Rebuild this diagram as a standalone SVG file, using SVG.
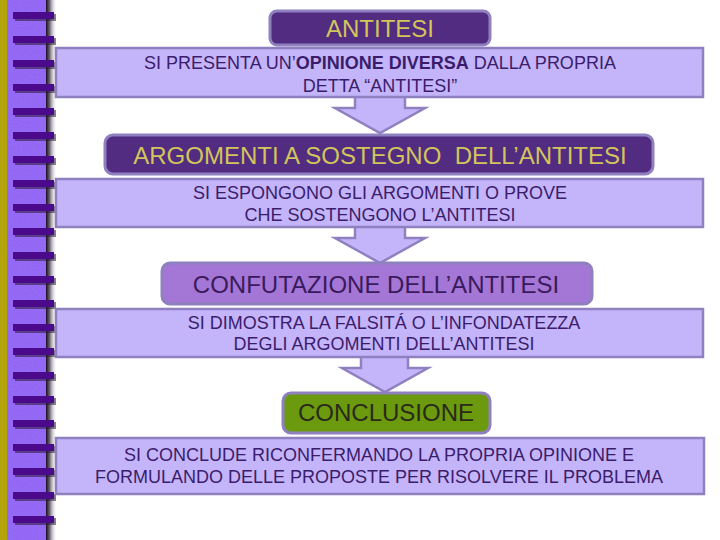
<svg xmlns="http://www.w3.org/2000/svg" width="720" height="540" viewBox="0 0 720 540">
<style>
.lt{fill:#c4b5fb;stroke:#8f80c0;stroke-width:2.5}
.ttl{stroke:#8f80c0;stroke-width:3}
.tx{font-family:"Liberation Sans",Arial,sans-serif;text-anchor:middle}
.s{font-size:18px;fill:#3b1c6b}
.b{font-size:24px}
.arr{fill:#c4b5fb;stroke:#8f80c0;stroke-width:2.5;stroke-linejoin:miter}
</style>
<defs>
<linearGradient id="edge" x1="0" x2="1" y1="0" y2="0">
<stop offset="0" stop-color="#1a0f20"/>
<stop offset="0.3" stop-color="#3a3040" stop-opacity="0.8"/>
<stop offset="1" stop-color="#ffffff" stop-opacity="0"/>
</linearGradient>
<pattern id="bars" x="0" y="12" width="60" height="24" patternUnits="userSpaceOnUse">
<rect x="15" y="2" width="41" height="7" fill="#2a1a30" opacity="0.55"/>
<rect x="13" y="0" width="41" height="7" fill="#4b0a8c"/>
</pattern>
<filter id="tex" x="0" y="0" width="1" height="1">
<feTurbulence type="fractalNoise" baseFrequency="0.9" numOctaves="2" result="n"/>
<feColorMatrix type="matrix" values="0 0 0 0 0.45  0 0 0 0 0.3  0 0 0 0 0.95  0 0 0 0.35 0" in="n" result="c"/>
<feComposite in="c" in2="SourceGraphic" operator="in"/>
</filter>
</defs>
<rect width="720" height="540" fill="#ffffff"/>
<g id="strip">
<rect x="0" y="0" width="7" height="540" fill="#b4a40c"/>
<rect x="7" y="0" width="40" height="540" fill="#8d5ff3"/>
<rect x="7" y="0" width="40" height="540" fill="#8d5ff3" filter="url(#tex)"/>
<rect x="46" y="0" width="11" height="540" fill="url(#edge)"/>
<rect x="0" y="0" width="60" height="540" fill="url(#bars)"/>
</g>
<g id="connectors">
<path class="arr" d="M355,96 V108 H335 L380,133 L425,108 H405 V96"/>
<path class="arr" d="M355,226 V238 H335 L380,263 L425,238 H405 V226"/>
<path class="arr" d="M361,356 V368 H342 L385,392 L428,368 H408 V356"/>
</g>
<g id="n_antitesi">
<rect class="ttl" x="270" y="11" width="220" height="34" rx="7" fill="#512c80"/>
<text class="tx b" x="380" y="37" fill="#d3c45c">ANTITESI</text>
</g>
<g id="n_desc1">
<rect class="lt" x="56" y="48" width="647" height="49"/>
<text class="tx s" x="380" y="69">SI PRESENTA UN’<tspan font-weight="bold">OPINIONE DIVERSA</tspan> DALLA PROPRIA</text>
<text class="tx s" x="380" y="92">DETTA “ANTITESI”</text>
</g>
<g id="n_argomenti">
<rect class="ttl" x="105" y="135" width="548" height="39" rx="8" fill="#512c80"/>
<text class="tx b" x="380" y="164" fill="#d3c45c" xml:space="preserve" style="white-space:pre">ARGOMENTI A SOSTEGNO  DELL’ANTITESI</text>
</g>
<g id="n_desc2">
<rect class="lt" x="56" y="179" width="647" height="48"/>
<text class="tx s" x="380" y="199">SI ESPONGONO GLI ARGOMENTI O PROVE</text>
<text class="tx s" x="380" y="221">CHE SOSTENGONO L’ANTITESI</text>
</g>
<g id="n_confutazione">
<rect class="ttl" x="162" y="263" width="430" height="41" rx="8" fill="#a476d5"/>
<text class="tx b" x="376" y="293" fill="#3a1a5c">CONFUTAZIONE DELL’ANTITESI</text>
</g>
<g id="n_desc3">
<rect class="lt" x="56" y="309" width="647" height="48"/>
<text class="tx s" x="384" y="329">SI DIMOSTRA LA FALSITÁ O L’INFONDATEZZA</text>
<text class="tx s" x="384" y="350">DEGLI ARGOMENTI DELL’ANTITESI</text>
</g>
<g id="n_conclusione">
<rect class="ttl" x="283" y="393" width="207" height="40" rx="8" fill="#6b9a0e"/>
<text class="tx b" x="386" y="421" fill="#2a2a1c">CONCLUSIONE</text>
</g>
<g id="n_desc4">
<rect class="lt" x="56" y="438" width="648" height="56"/>
<text class="tx s" x="379" y="461">SI CONCLUDE RICONFERMANDO LA PROPRIA OPINIONE E</text>
<text class="tx s" x="379" y="483">FORMULANDO DELLE PROPOSTE PER RISOLVERE IL PROBLEMA</text>
</g>
</svg>
